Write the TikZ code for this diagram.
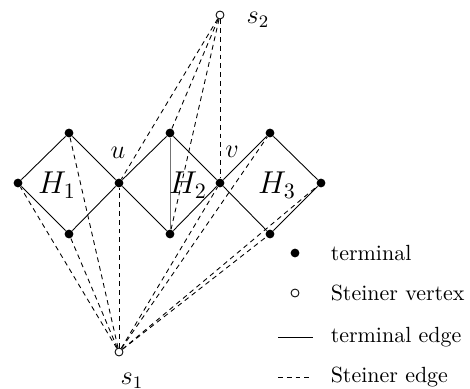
\documentclass[tikz,border=0pt]{standalone}
\begin{document}
\begin{tikzpicture}[x=0.016cm,y=-0.016cm,
        term/.style={circle,fill=black,inner sep=0pt,minimum size=4pt},
        stein/.style={circle,draw=black,fill=white,inner sep=0pt,minimum size=3.6pt},
        sedge/.style={dash pattern=on 2.2pt off 1.8pt},
        lbl/.style={font=\large}]
    \useasboundingbox (0,0) rectangle (470,389);
    % vertices of H_1, H_2, H_3
    \node[term] (a1) at (18,183) {};
    \node[term] (a2) at (69,133) {};
    \node[term] (a3) at (69,234) {};
    \node[term] (u) at (119,183) {};
    \node[term] (b1) at (170,133) {};
    \node[term] (b2) at (170,234) {};
    \node[term] (v) at (220,183) {};
    \node[term] (c1) at (270,133) {};
    \node[term] (c2) at (321,183) {};
    \node[term] (c3) at (270,234) {};
    % Steiner vertices
    \node[stein] (s1) at (119,352) {};
    \node[stein] (s2) at (220,15) {};
    % terminal edges
    \draw (a1) -- (a2) -- (u) -- (a3) -- (a1);
    \draw (u) -- (b1) -- (v) -- (b2) -- (u);
    \draw (v) -- (c1) -- (c2) -- (c3) -- (v);
    \draw[black!55] (b1) -- (b2);
    % Steiner edges
    \foreach \t in {u,b1,b2,v}
        \draw[sedge] (s2) -- (\t);
    \foreach \t in {a1,a2,a3,u,v,c1,c2,c3}
        \draw[sedge] (s1) -- (\t);
    % labels
    \node[lbl] (lu) at (118,153) {$u$};
    \node[lbl] (lv) at (232,152) {$v$};
    \node[font=\Large] (h1) at (57,185) {$H_1$};
    \node[font=\Large] (h2) at (188,185) {$H_2$};
    \node[font=\Large] (h3) at (277,185) {$H_3$};
    \node[lbl] (ls2) at (258,20) {$s_2$};
    \node[lbl] (ls1) at (132,381) {$s_1$};
    % legend
    \node[term] (k1) at (295,253) {};
    \node[anchor=west] (t1) at (323,253) {terminal};
    \node[stein] (k2) at (295,293) {};
    \node[anchor=west] (t2) at (323,293) {Steiner vertex};
    \coordinate (k3a) at (278,337);
    \coordinate (k3b) at (313,337);
    \draw (k3a) -- (k3b);
    \node[anchor=west] (t3) at (323,337) {terminal edge};
    \coordinate (k4a) at (278,377);
    \coordinate (k4b) at (313,377);
    \draw[sedge] (k4a) -- (k4b);
    \node[anchor=west] (t4) at (323,377) {Steiner edge};
\end{tikzpicture}
\end{document}
